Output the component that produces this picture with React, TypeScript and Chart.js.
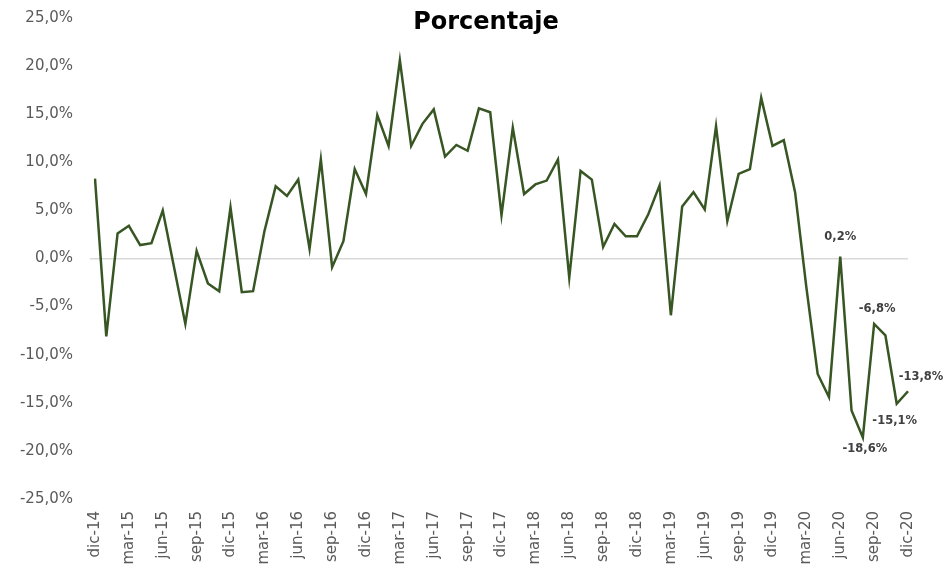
import React, { useEffect, useRef } from "react";
import { Chart, registerables } from "chart.js";

Chart.register(...registerables);

const MONTHS = ["ene", "feb", "mar", "abr", "may", "jun", "jul", "ago", "sep", "oct", "nov", "dic"];

// Monthly categories dic-14 .. dic-20
const categories: string[] = ["dic-14"];
for (let y = 15; y <= 20; y++) {
  for (const m of MONTHS) categories.push(`${m}-${y}`);
}

const seriesValues: number[] = [
  8.3, -8.1, 2.6, 3.4, 1.4, 1.6, 5.0, -0.9, -6.8, 0.8, -2.6, -3.4,
  5.3, -3.5, -3.4, 2.8, 7.5, 6.5, 8.2, 1.0, 10.3, -0.9, 1.8, 9.3,
  6.7, 14.9, 11.7, 20.6, 11.7, 14.0, 15.5, 10.6, 11.8, 11.2, 15.6, 15.2,
  4.5, 13.6, 6.7, 7.7, 8.1, 10.3, -2.0, 9.1, 8.2, 1.2, 3.6, 2.3,
  2.3, 4.6, 7.6, -5.9, 5.4, 6.9, 5.1, 13.75, 3.9, 8.8, 9.3, 16.7,
  11.7, 12.3, 6.9, -3.0, -12.0, -14.4, 0.2, -15.8, -18.6, -6.8, -8.0, -15.1,
  -13.8,
];

const labelledIndices: number[] = [66, 68, 69, 71, 72];
const labelOffsets: [number, number][] = [
  [0, -20],
  [2, 12],
  [3, -15],
  [-2, 17],
  [13, -14],
];

const TITLE = "Porcentaje";
const FONT = "'DejaVu Sans', sans-serif";

const fmtPct = (v: number, d: number) => v.toFixed(d).replace(".", ",") + "%";

export default function App() {
  const ref = useRef<HTMLCanvasElement | null>(null);

  useEffect(() => {
    if (!ref.current) return;

    const titlePlugin = {
      id: "customTitle",
      afterDraw(chart: any) {
        const ctx = chart.ctx;
        ctx.save();
        ctx.font = `bold 24px ${FONT}`;
        ctx.fillStyle = "#000000";
        ctx.textAlign = "center";
        ctx.textBaseline = "middle";
        ctx.fillText(TITLE, 486, 23);
        ctx.restore();
      },
    };

    const dataLabelPlugin = {
      id: "pointLabels",
      afterDatasetsDraw(chart: any) {
        const meta = chart.getDatasetMeta(0);
        const ctx = chart.ctx;
        ctx.save();
        ctx.font = `bold 11.5px ${FONT}`;
        ctx.fillStyle = "#404040";
        ctx.textAlign = "center";
        ctx.textBaseline = "middle";
        labelledIndices.forEach((idx, i) => {
          const pt = meta.data[idx];
          if (!pt) return;
          const [dx, dy] = labelOffsets[i];
          ctx.fillText(fmtPct(seriesValues[idx], 1), pt.x + dx, pt.y + dy);
        });
        ctx.restore();
      },
    };

    const chart = new Chart(ref.current, {
      type: "line",
      data: {
        labels: categories,
        datasets: [
          {
            data: seriesValues,
            borderColor: "#375623",
            borderWidth: 2.5,
            pointRadius: 0,
            tension: 0,
            fill: false,
          },
        ],
      },
      options: {
        animation: false,
        responsive: true,
        maintainAspectRatio: false,
        layout: { padding: { top: 18, right: 37, left: 0, bottom: 0 } },
        plugins: {
          legend: { display: false },
          title: { display: false },
          tooltip: { enabled: false },
        },
        scales: {
          x: {
            type: "category",
            offset: false,
            grid: { display: false },
            border: { display: false },
            ticks: {
              autoSkip: false,
              maxRotation: 90,
              minRotation: 90,
              padding: 4,
              color: "#595959",
              font: { family: FONT, size: 15 },
              callback: (_v: any, idx: number) => (idx % 3 === 0 ? categories[idx] : ""),
            },
            afterFit: (scale: any) => {
              scale.height = 74;
              scale.paddingLeft = 0;
              scale.paddingRight = 0;
            },
          },
          y: {
            min: -25,
            max: 25,
            border: { display: false },
            grid: {
              color: (c: any) => (c.tick && c.tick.value === 0 ? "#d9d9d9" : "rgba(0,0,0,0)"),
              lineWidth: 1.5,
              drawTicks: true,
              tickLength: 5,
            },
            ticks: {
              stepSize: 5,
              padding: 17,
              color: "#595959",
              font: { family: FONT, size: 15 },
              callback: (v: any) => fmtPct(Number(v), 1),
            },
            afterFit: (scale: any) => {
              scale.width = 95;
              scale.paddingTop = 0;
              scale.paddingBottom = 0;
            },
          },
        },
      },
      plugins: [titlePlugin, dataLabelPlugin],
    });

    return () => chart.destroy();
  }, []);

  return (
    <div style={{ position: "fixed", left: 0, top: 0, width: 945, height: 573 }}>
      <canvas ref={ref} />
    </div>
  );
}
